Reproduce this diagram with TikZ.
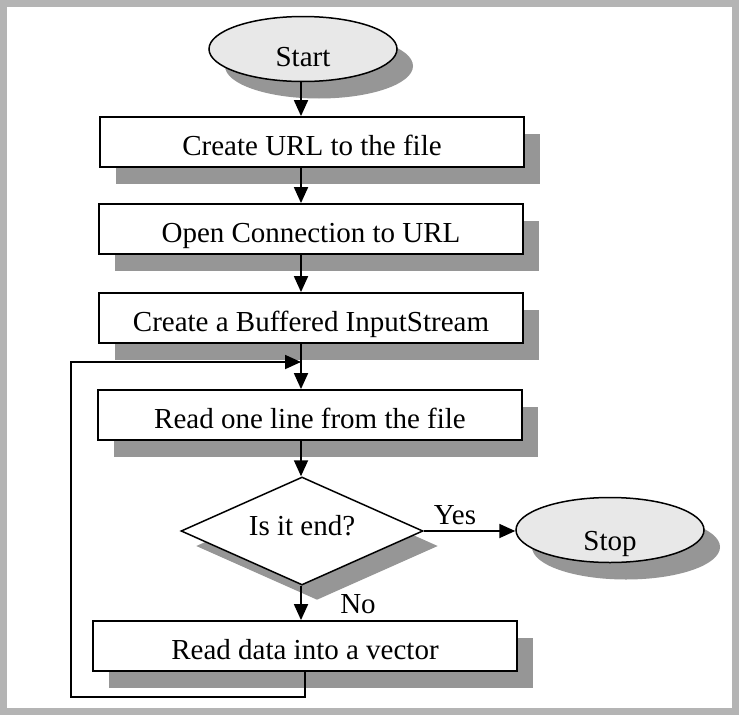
\documentclass[tikz,border=0pt]{standalone}
\usepackage{fontspec}
\setmainfont{Liberation Serif}
\usepackage{tikz}
\usetikzlibrary{shapes.geometric, shadows, arrows.meta}
\definecolor{framegray}{RGB}{180,180,180}
\definecolor{shadowgray}{RGB}{150,150,150}
\definecolor{termfill}{RGB}{232,232,232}

\begin{document}
\begin{tikzpicture}[x=1pt, y=-1pt,
    every node/.style={font=\fontsize{29}{34}\selectfont},
    procbox/.style={draw, line width=1.8pt, fill=white, minimum width=424pt, minimum height=50pt, inner sep=0pt,
        text height=32pt, text depth=6pt,
        drop shadow={shadow xshift=16pt, shadow yshift=-17pt, fill=shadowgray, opacity=1}},
    terminal/.style={ellipse, draw, line width=1.5pt, fill=termfill, minimum width=188pt, minimum height=65pt, inner sep=0pt,
        text depth=0pt,
        drop shadow={shadow xshift=16pt, shadow yshift=-17pt, fill=shadowgray, opacity=1}},
    decision/.style={diamond, draw, line width=1.5pt, fill=white, aspect=2.24, minimum width=242pt, minimum height=108pt, inner sep=0pt,
        text height=20pt, text depth=12pt,
        drop shadow={shadow xshift=15pt, shadow yshift=-15pt, fill=shadowgray, opacity=1}},
    flow/.style={line width=1.8pt, -{Triangle[length=16pt, width=14pt]}}]
    \useasboundingbox (0,0) rectangle (739,715);

    % Gray frame round the chart
    \fill[framegray] (0,0) rectangle (739,715);
    \fill[white] (7,7) rectangle (732,708);

    % Terminals, steps and the test
    \node[terminal, text height=34pt] (start) at (303,49) {Start};
    \node[procbox] (url) at (312,142) {Create URL to the file};
    \node[procbox] (conn) at (311,229) {Open Connection to URL};
    \node[procbox] (stream) at (311,318) {Create a Buffered InputStream};
    \node[procbox] (readline) at (310,415) {Read one line from the file};
    \node[decision] (isend) at (302,531) {Is it end?};
    \node[terminal, text height=40pt] (stop) at (610,530) {Stop};
    \node[procbox] (readdata) at (305,646) {Read data into a vector};

    % Branch labels
    \node (yeslbl) at (455,515) {Yes};
    \node (nolbl) at (358,604) {No};

    % Main flow down the middle
    \coordinate (spine) at (301,0);
    \foreach \a/\b in {start/url, url/conn, conn/stream, stream/readline, readline/isend, isend/readdata}
        \draw[flow] (\a.south -| spine) -- (\b.north -| spine);
    \draw[flow] (isend.east) -- (isend.east -| stop.west);

    % Loop back to the read step
    \coordinate (loopbot) at (71,697);
    \coordinate (looptop) at (71,362);
    \draw[flow] (readdata.south) |- (loopbot) -- (looptop) -- (looptop -| spine);
\end{tikzpicture}
\end{document}
